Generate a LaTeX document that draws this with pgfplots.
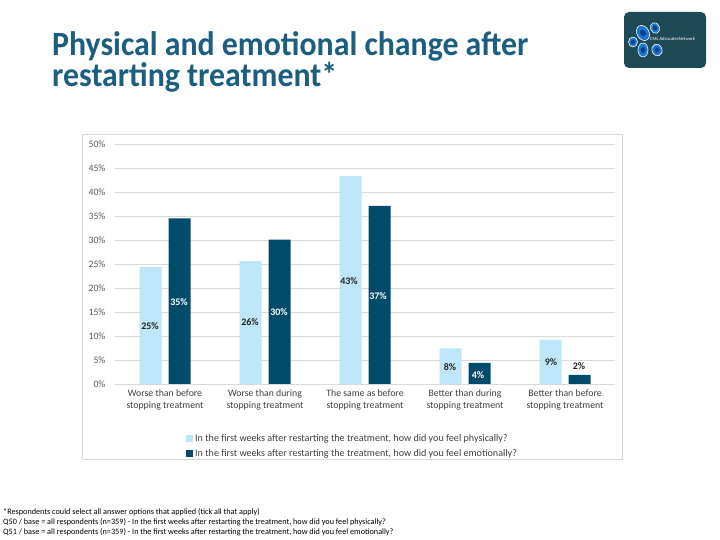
\documentclass[border=0pt]{standalone}
\usepackage{fontspec}
\setmainfont{Carlito}
\usepackage{pgfplots}
\pgfplotsset{compat=1.18}
\definecolor{lightbar}{HTML}{BDE7F9}
\definecolor{darkbar}{HTML}{004A6A}
\definecolor{titleblue}{HTML}{1B5E80}
\definecolor{logobg}{HTML}{1E4A56}
\definecolor{gridgray}{HTML}{D9D9D9}
\definecolor{framegray}{HTML}{D9D9D9}
\definecolor{txtgray}{HTML}{595959}
\definecolor{legtxt}{HTML}{404040}
\definecolor{lbltxt}{HTML}{262626}
\definecolor{blob}{HTML}{1976D2}
\definecolor{blobdark}{HTML}{0D3F8F}
\begin{document}
\begin{tikzpicture}[x=1bp,y=1bp]
\path[use as bounding box, fill=white] (0,0) rectangle (720,540);
% title
\node[anchor=base west, inner sep=0, text=titleblue, font=\fontsize{34bp}{36bp}\selectfont\bfseries] at (52,484) {\scalebox{0.936}[1]{Physical and emotional change after}};
\node[anchor=base west, inner sep=0, text=titleblue, font=\fontsize{34bp}{36bp}\selectfont\bfseries] at (52,453) {\scalebox{0.936}[1]{restarting treatment*}};
% chart frame
\draw[framegray, line width=0.8bp] (82,81) rectangle (622,406);
% logo
\fill[logobg, rounded corners=5bp] (624,472) rectangle (706,528);
\foreach \cx/\cy/\rx/\ry/\rot in {643/507/6/8/30, 655/512/4.5/5.5/20, 633/498/4.5/5/0, 643/490/5/7/0, 657/490/5/6/20}{
  \filldraw[fill=blob, draw=white, line width=0.6bp, rotate around={\rot:(\cx,\cy)}] (\cx,\cy) ellipse [x radius=\rx, y radius=\ry];
  \fill[blobdark, rotate around={\rot:(\cx,\cy)}] (\cx,\cy) ellipse [x radius=\rx*0.45, y radius=\ry*0.45];
}
\node[anchor=west, inner sep=0, text=white, font=\fontsize{4.6bp}{5bp}\selectfont] at (650,501) {CML AdvocatesNetwork};
% footnotes
\node[anchor=base west, inner sep=0, font=\fontsize{8.2bp}{9bp}\selectfont] at (3,25) {*Respondents could select all answer options that applied (tick all that apply)};
\node[anchor=base west, inner sep=0, font=\fontsize{8.2bp}{9bp}\selectfont] at (3,15) {Q50 / base = all respondents (n=359) - In the first weeks after restarting the treatment, how did you feel physically?};
\node[anchor=base west, inner sep=0, font=\fontsize{8.2bp}{9bp}\selectfont] at (3,5) {Q51 / base = all respondents (n=359) - In the first weeks after restarting the treatment, how did you feel emotionally?};
\begin{axis}[
  at={(115bp,156bp)}, anchor=south west,
  scale only axis, width=500bp, height=240bp,
  xmin=-0.5, xmax=4.5, ymin=0, ymax=50,
  ybar=7bp, bar width=22bp,
  axis line style={draw=none},
  major tick length=0pt,
  ytick={0,5,...,50},
  yticklabel={\pgfmathprintnumber[assume math mode=true]{\tick}\%},
  yticklabel style={text=txtgray, font=\fontsize{9.8bp}{12bp}\selectfont, xshift=-6bp},
  ymajorgrids, grid style={gridgray, line width=0.8bp},
  xtick={0,1,2,3,4},
  xticklabels={{Worse than before\\stopping treatment},{Worse than during\\stopping treatment},{The same as before\\stopping treatment},{Better than during\\stopping treatment},{Better than before\\stopping treatment}},
  xticklabel style={align=center, text=legtxt, font=\fontsize{9.8bp}{12bp}\selectfont, yshift=-2bp},
  legend style={at={(0.142,-0.2)}, anchor=north west, draw=none, fill=none,
    font=\fontsize{10.1bp}{12bp}\selectfont, text=legtxt, row sep=2.5bp, inner sep=0pt},
  legend cell align=left,
  legend image code/.code={\fill[#1] (0bp,-3.5bp) rectangle (7bp,3.5bp);},
]
\addplot[fill=lightbar, draw=none] coordinates {(0,24.4) (1,25.6) (2,43.3) (3,7.4) (4,9.2)};
\addplot[fill=darkbar, draw=none] coordinates {(0,34.5) (1,30.1) (2,37.1) (3,4.4) (4,1.9)};
\legend{{In the first weeks after restarting the treatment, how did you feel physically?},{In the first weeks after restarting the treatment, how did you feel emotionally?}}
\tikzset{lbl/.style={font=\fontsize{10bp}{12bp}\selectfont\bfseries, inner sep=0}}
\node[lbl, text=lbltxt] at (axis cs:-0.15,12.1) {25\%};
\node[lbl, text=lbltxt] at (axis cs:0.85,12.8) {26\%};
\node[lbl, text=lbltxt] at (axis cs:1.84,21.5) {43\%};
\node[lbl, text=lbltxt] at (axis cs:2.85,3.5) {8\%};
\node[lbl, text=lbltxt] at (axis cs:3.86,4.6) {9\%};
\node[lbl, text=white] at (axis cs:0.14,17.1) {35\%};
\node[lbl, text=white] at (axis cs:1.14,14.9) {30\%};
\node[lbl, text=white] at (axis cs:2.13,18.4) {37\%};
\node[lbl, text=white] at (axis cs:3.13,1.9) {4\%};
\node[lbl, text=lbltxt] at (axis cs:4.14,3.8) {2\%};
\end{axis}
\end{tikzpicture}
\end{document}
